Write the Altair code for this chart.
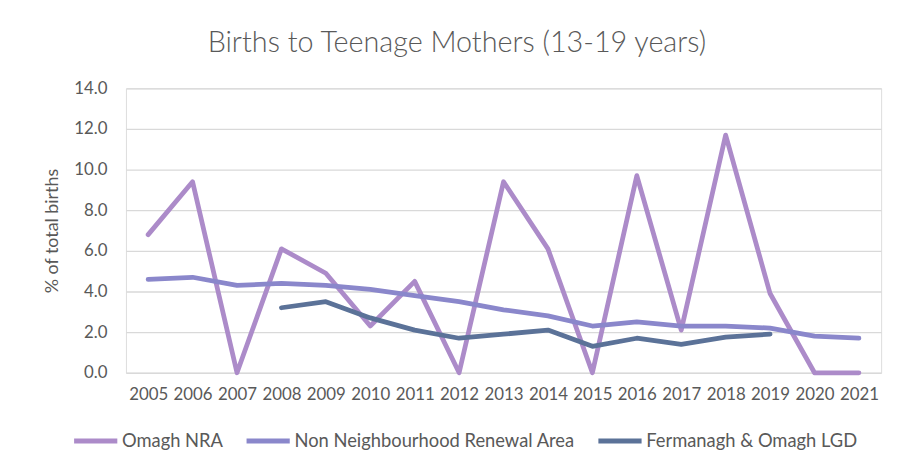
import altair as alt
import pandas as pd

years = [str(y) for y in range(2005, 2022)]
omagh_nra = [6.8, 9.4, 0.0, 6.1, 4.9, 2.3, 4.5, 0.0, 9.4, 6.1, 0.0, 9.7, 2.1, 11.7, 3.9, 0.0, 0.0]
non_nra = [4.6, 4.7, 4.3, 4.4, 4.3, 4.1, 3.8, 3.5, 3.1, 2.8, 2.3, 2.5, 2.3, 2.3, 2.2, 1.8, 1.7]
lgd = [None, None, None, 3.2, 3.5, 2.7, 2.1, 1.7, 1.9, 2.1, 1.3, 1.7, 1.4, 1.75, 1.9, None, None]

series_names = ["Omagh NRA", "Non Neighbourhood Renewal Area", "Fermanagh & Omagh LGD"]
series_colors = ["#AC8BC9", "#8A87CB", "#5B7298"]

rows = []
for name, vals in zip(series_names, [omagh_nra, non_nra, lgd]):
    for y, v in zip(years, vals):
        if v is not None:
            rows.append({"Year": y, "Value": v, "Series": name})
df = pd.DataFrame(rows)

FONT = "Lato"
GREY = "#595959"

chart = alt.Chart(df).mark_line(strokeWidth=4.8, strokeCap="round", strokeJoin="round").encode(
    x=alt.X("Year:N", sort=years, scale=alt.Scale(paddingInner=0, paddingOuter=0.5),
            axis=alt.Axis(title=None, labelAngle=0, ticks=False, domain=False, grid=False,
                          labelFont=FONT, labelFontSize=17, labelColor=GREY, labelPadding=14)),
    y=alt.Y("Value:Q", scale=alt.Scale(domain=[0, 14]),
            axis=alt.Axis(title="% of total births", values=[0, 2, 4, 6, 8, 10, 12, 14], format=".1f",
                          ticks=False, domain=False, grid=True, gridColor="#D9D9D9", gridWidth=1.3,
                          labelFont=FONT, labelFontSize=17, labelColor=GREY, labelPadding=19,
                          titleFont=FONT, titleFontSize=18, titleFontWeight="normal", titleColor=GREY,
                          titlePadding=12)),
    color=alt.Color("Series:N", sort=series_names,
                    scale=alt.Scale(domain=series_names, range=series_colors),
                    legend=alt.Legend(title=None, orient="none", direction="horizontal",
                                      legendX=-55, legendY=331,
                                      symbolType="stroke", symbolSize=1900, symbolStrokeWidth=5,
                                      labelFont=FONT, labelFontSize=18.5, labelColor=GREY,
                                      labelLimit=500, labelOffset=2, columnPadding=13)),
    order=alt.Order("Series:N"),
).properties(
    width=762,
    height=287,
    title=alt.TitleParams("Births to Teenage Mothers (13-19 years)", font=FONT, fontSize=29,
                          fontWeight=300, color=GREY, anchor="middle", dx=-47, offset=22),
    autosize=alt.AutoSizeParams(type="none"),
    padding={"left": 119, "top": 79, "right": 15, "bottom": 90},
).configure_view(stroke=None).configure(background="white")

chart.save("out.html", embed_options={"renderer": "svg", "actions": False})
